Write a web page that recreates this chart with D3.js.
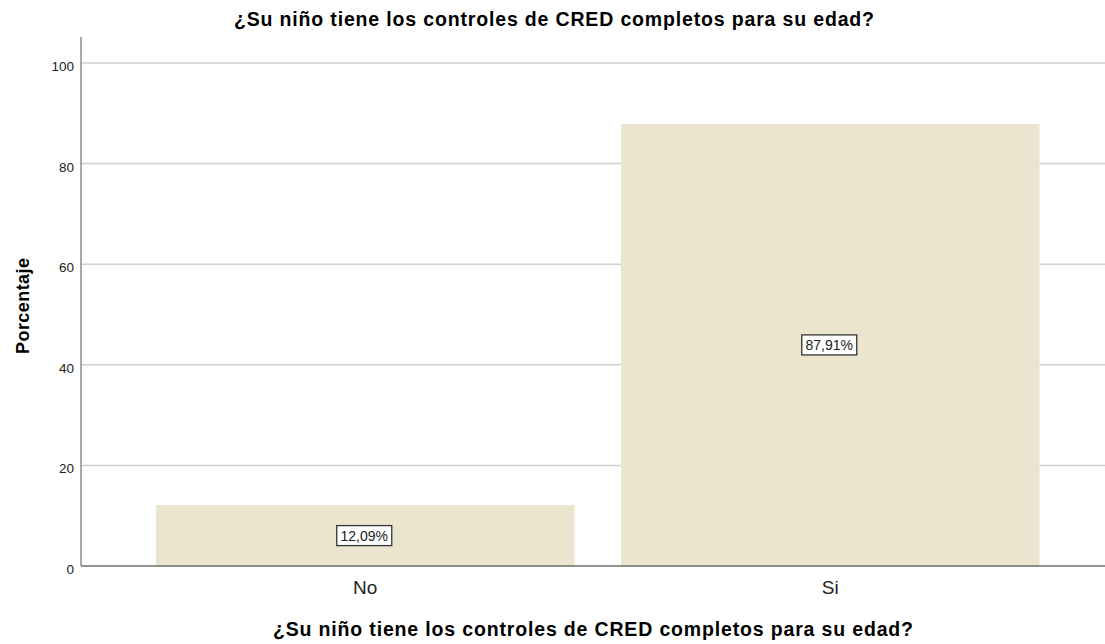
<!DOCTYPE html>
<html>
<head>
  <meta charset="utf-8">
  <script src="https://d3js.org/d3.v7.min.js"></script>
  <style>
    body { margin: 0; background: #fff; }
    text { font-family: Arial, 'Liberation Sans', sans-serif; fill: #000; }
    .title { font-weight: bold; }
    .tick text { font-size: 13.5px; fill: #222; }
    .grid line { stroke: #d0d0d0; stroke-width: 1.5px; }
  </style>
</head>
<body>
<div id="chart"></div>
<script>
  // data
  var categories = ["No", "Si"];
  var values = [12.09, 87.91];
  var labels = ["12,09%", "87,91%"];
  var yTicks = [0, 20, 40, 60, 80, 100];

  var title = "¿Su niño tiene los controles de CRED completos para su edad?";
  var xTitle = "¿Su niño tiene los controles de CRED completos para su edad?";
  var yTitle = "Porcentaje";

  function draw() {
    var width = 1105, height = 644;
    var svg = d3.select("#chart").append("svg")
        .attr("width", width)
        .attr("height", height);

    var plotLeft = 81, plotRight = 1105, plotTop = 37, plotBottom = 566;

    var y = d3.scaleLinear().domain([0, 105.17]).range([plotBottom, plotTop]);
    var x = d3.scaleBand().domain(categories)
        .range([156, 1039.5])
        .paddingInner(0.1).paddingOuter(0);

    // gridlines
    svg.append("g").attr("class", "grid")
      .selectAll("line").data(yTicks.filter(function(d) { return d > 0; }))
      .enter().append("line")
        .attr("x1", plotLeft).attr("x2", plotRight)
        .attr("y1", function(d) { return y(d); })
        .attr("y2", function(d) { return y(d); });

    // bars
    svg.selectAll(".bar").data(values).enter().append("rect")
        .attr("class", "bar")
        .attr("x", function(d, i) { return x(categories[i]); })
        .attr("width", x.bandwidth())
        .attr("y", function(d) { return y(d); })
        .attr("height", function(d) { return plotBottom - y(d); })
        .attr("fill", "#ebe4cf");

    // y axis
    var yAxis = svg.append("g")
        .attr("transform", "translate(" + plotLeft + ",0)")
        .call(d3.axisLeft(y).tickValues(yTicks).tickSize(0).tickPadding(7));
    yAxis.select(".domain").remove();
    yAxis.selectAll(".tick text").attr("dy", "0.55em");
    svg.append("line")
        .attr("x1", plotLeft).attr("x2", plotLeft)
        .attr("y1", plotTop).attr("y2", plotBottom)
        .attr("stroke", "#8c8c8c").attr("stroke-width", 1.5);

    // x axis
    svg.append("line")
        .attr("x1", plotLeft).attr("x2", plotRight)
        .attr("y1", plotBottom).attr("y2", plotBottom)
        .attr("stroke", "#6e6e6e").attr("stroke-width", 1.3);
    svg.selectAll(".xlab").data(categories).enter().append("text")
        .attr("x", function(d) { return x(d) + x.bandwidth() / 2; })
        .attr("y", 594)
        .attr("text-anchor", "middle")
        .style("font-size", "19px")
        .style("fill", "#222")
        .text(function(d) { return d; });

    // value labels in boxes
    var lab = svg.selectAll(".vlab").data(values).enter().append("g")
        .attr("transform", function(d, i) {
          return "translate(" + (x(categories[i]) + x.bandwidth() / 2 - 1) + "," + ((y(d) + plotBottom) / 2) + ")";
        });
    lab.append("rect")
        .attr("x", -27.5).attr("y", -10)
        .attr("width", 55).attr("height", 20)
        .attr("fill", "#fff")
        .attr("stroke", "#333").attr("stroke-width", 1.3);
    lab.append("text")
        .attr("text-anchor", "middle")
        .attr("dy", "0.36em")
        .style("font-size", "14px")
        .style("fill", "#222")
        .text(function(d, i) { return labels[i]; });

    // titles
    svg.append("text").attr("class", "title")
        .attr("x", 554).attr("y", 26)
        .attr("text-anchor", "middle")
        .style("font-size", "19.5px")
        .attr("textLength", 640)
        .attr("lengthAdjust", "spacing")
        .text(title);
    svg.append("text").attr("class", "title")
        .attr("x", (plotLeft + plotRight) / 2).attr("y", 636)
        .attr("text-anchor", "middle")
        .style("font-size", "19.5px")
        .attr("textLength", 640)
        .attr("lengthAdjust", "spacing")
        .text(xTitle);
    svg.append("text")
        .attr("transform", "translate(29,306) rotate(-90)")
        .attr("text-anchor", "middle")
        .style("font-size", "18px")
        .style("font-weight", "bold")
        .attr("textLength", 96)
        .attr("lengthAdjust", "spacing")
        .text(yTitle);
  }

  draw();
</script>
</body>
</html>
